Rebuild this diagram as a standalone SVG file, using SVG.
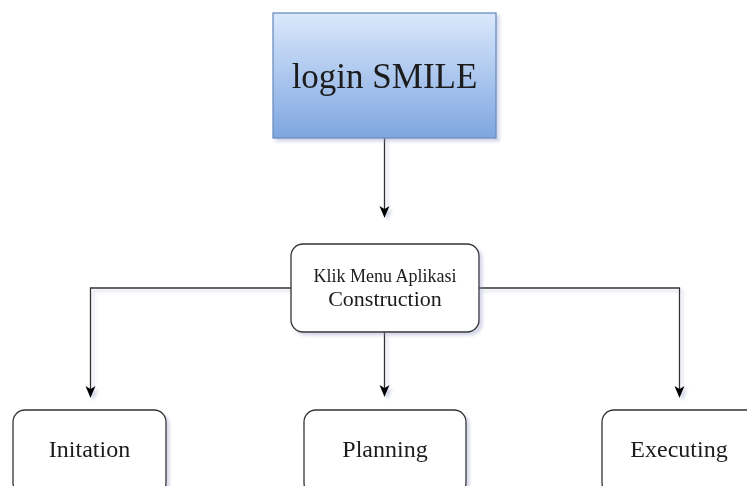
<svg xmlns="http://www.w3.org/2000/svg" width="747" height="486" viewBox="0 0 747 486">
<defs>
<linearGradient id="blue" x1="0" y1="0" x2="0" y2="1">
<stop offset="0" stop-color="#dae8fc"/>
<stop offset="1" stop-color="#7ea6e0"/>
</linearGradient>
<filter id="sh" x="-10%" y="-10%" width="130%" height="130%">
<feGaussianBlur in="SourceAlpha" stdDeviation="1.5"/>
<feOffset dx="3" dy="3" result="b"/>
<feFlood flood-color="#8a8fc0" flood-opacity="0.35"/>
<feComposite in2="b" operator="in"/>
<feMerge><feMergeNode/><feMergeNode in="SourceGraphic"/></feMerge>
</filter>
</defs>
<style>
.box{fill:#fff;stroke:#333;stroke-width:1.3}
.t{font-family:"Liberation Serif","Times New Roman",serif;fill:#1a1a1a;text-anchor:middle}
.c{fill:none;stroke:#333;stroke-width:1.3}
.ah{fill:#000}
</style>
<rect width="747" height="486" fill="#fff"/>
<g id="connectors" filter="url(#sh)">
<path class="c" d="M384.5,138 V215"/>
<path class="ah" d="M379.5,206 L384.5,209 L389.5,206 L384.5,218 Z"/>
<path class="c" d="M291,288 H90.5 V395"/>
<path class="ah" d="M85.5,386 L90.5,389 L95.5,386 L90.5,398 Z"/>
<path class="c" d="M479,288 H679.5 V395"/>
<path class="ah" d="M674.5,386 L679.5,389 L684.5,386 L679.5,398 Z"/>
<path class="c" d="M384.5,332 V394"/>
<path class="ah" d="M379.5,385 L384.5,388 L389.5,385 L384.5,397 Z"/>
</g>
<g id="login" filter="url(#sh)">
<rect x="273" y="13" width="223" height="125" fill="url(#blue)" stroke="#6c8ebf" stroke-width="1.3"/>
<text class="t" x="384.5" y="88" font-size="35">login SMILE</text>
</g>
<g id="construction" filter="url(#sh)">
<rect class="box" x="291" y="244" width="188" height="88" rx="12"/>
<text class="t" x="385" y="282" font-size="18">Klik Menu Aplikasi</text>
<text class="t" x="385" y="306" font-size="22">Construction</text>
</g>
<g id="initation" filter="url(#sh)">
<rect class="box" x="13" y="410" width="153" height="85" rx="12"/>
<text class="t" x="89.5" y="457" font-size="24">Initation</text>
</g>
<g id="planning" filter="url(#sh)">
<rect class="box" x="304" y="410" width="162" height="85" rx="12"/>
<text class="t" x="385" y="457" font-size="24">Planning</text>
</g>
<g id="executing" filter="url(#sh)">
<rect class="box" x="602" y="410" width="158" height="85" rx="12"/>
<text class="t" x="679" y="457" font-size="24">Executing</text>
</g>
</svg>
